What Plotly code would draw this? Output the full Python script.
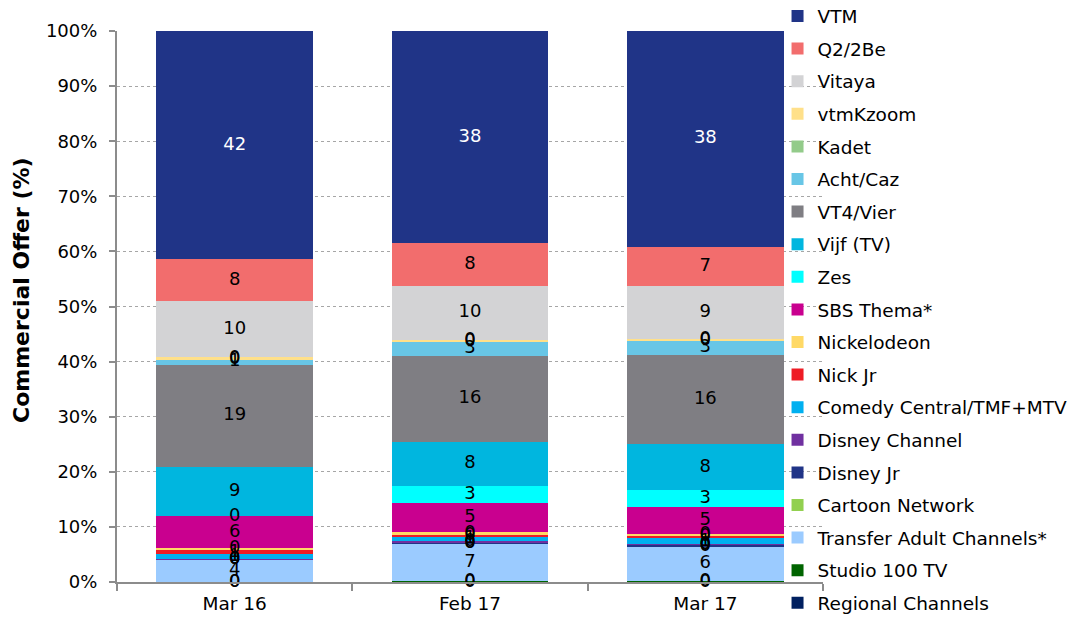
import plotly.graph_objects as go

categories = ["Mar 16", "Feb 17", "Mar 17"]

series = ["Regional Channels", "Studio 100 TV", "Transfer Adult Channels*", "Cartoon Network",
          "Disney Jr", "Disney Channel", "Comedy Central/TMF+MTV", "Nick Jr", "Nickelodeon",
          "SBS Thema*", "Zes", "Vijf (TV)", "VT4/Vier", "Acht/Caz", "Kadet", "vtmKzoom",
          "Vitaya", "Q2/2Be", "VTM"]

colors = ["#002060", "#006400", "#9BCBFF", "#92D050", "#203487", "#7030A0", "#00B0F0",
          "#EE1C25", "#FFD966", "#C9008F", "#00FFFF", "#00B6DF", "#7F7E83", "#68C6E6",
          "#93CB8A", "#FFE08A", "#D3D3D5", "#F26D6D", "#203487"]

mar16 = [0, 0, 4.1, 0, 0.05, 0.05, 0.9, 0.7, 0.45, 5.7, 0, 9.1, 18.6, 1.0, 0, 0.3, 10.2, 7.7, 41.6]
feb17 = [0, 0.2, 6.8, 0, 0.1, 0.3, 0.9, 0.3, 0.4, 5.3, 3.1, 8.0, 15.5, 2.7, 0, 0.3, 9.8, 7.7, 38.4]
mar17 = [0, 0.2, 6.2, 0, 0.2, 0.1, 1.2, 0.3, 0.35, 4.8, 2.95, 8.2, 15.9, 2.65, 0, 0.3, 9.35, 7.0, 38.4]

columns = [mar16, feb17, mar17]
FONT = "DejaVu Sans"

# normalise each column to 100 %
pct = []
for col in columns:
    tot = sum(col)
    pct.append([v / tot * 100 for v in col])

n = len(series)
fig = go.Figure()
for i, name in enumerate(series):
    fig.add_trace(go.Bar(
        x=categories, y=[pct[c][i] for c in range(3)], name=name,
        marker=dict(color=colors[i], line=dict(width=0)),
        legendgroup=name, legendrank=n - i, hoverinfo="skip",
    ))

# segment labels
tx, ty, tt, tc = [], [], [], []
for c, cat in enumerate(categories):
    cum = 0
    for i, name in enumerate(series):
        h = pct[c][i]
        tx.append(cat)
        ty.append(cum + h / 2)
        tt.append(f"{columns[c][i]:.0f}")
        tc.append("white" if name == "VTM" else "black")
        cum += h

fig.add_trace(go.Scatter(
    x=tx, y=ty, text=tt, mode="text", showlegend=False, hoverinfo="skip",
    textfont=dict(family=FONT, size=18, color=tc), cliponaxis=False,
))

fig.update_layout(
    width=1076, height=623,
    barmode="stack", bargap=0.333,
    paper_bgcolor="white", plot_bgcolor="white",
    margin=dict(l=109, r=260.5, t=23, b=49, autoexpand=False),
    font=dict(family=FONT, size=18, color="black"),
    showlegend=True,
    legend=dict(
        x=0.9356, xanchor="left", y=1.0608, yanchor="top",
        traceorder="grouped", tracegroupgap=5.55,
        bgcolor="rgba(0,0,0,0)", font=dict(family=FONT, size=18.5, color="black"),
        itemwidth=30, maxheight=720,
    ),
    xaxis=dict(
        showgrid=False, showline=True, linecolor="#8C8C8C", linewidth=2,
        ticks="outside", tickson="boundaries", ticklen=7, tickcolor="#8C8C8C", tickwidth=2,
        tickfont=dict(size=18.5), ticklabelstandoff=4, automargin=False,
    ),
    yaxis=dict(
        range=[0, 100], tickvals=[0, 10, 20, 30, 40, 50, 60, 70, 80, 90, 100],
        ticktext=[f"{v}%" for v in [0, 10, 20, 30, 40, 50, 60, 70, 80, 90, 100]],
        showgrid=True, gridcolor="#A6A6A6", griddash="dot", gridwidth=1,
        showline=True, linecolor="#8C8C8C", linewidth=2,
        ticks="outside", ticklen=6, tickcolor="#8C8C8C", tickwidth=2,
        ticklabelstandoff=8, tickfont=dict(size=18), automargin=False,
        zeroline=False,
    ),
    annotations=[dict(
        text="<b>Commercial Offer (%)</b>", textangle=-90,
        xref="paper", yref="paper", x=-0.1345, y=0.53,
        xanchor="center", yanchor="middle", showarrow=False,
        font=dict(family=FONT, size=22, color="black"),
    )],
)

fig.write_html("out.html")
